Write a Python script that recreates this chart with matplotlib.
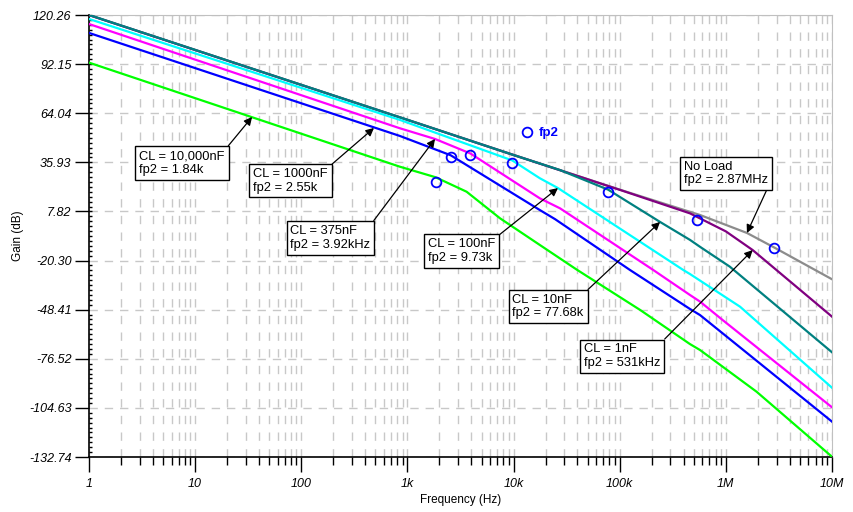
import matplotlib
matplotlib.use('Agg')
import matplotlib.pyplot as plt
from matplotlib.ticker import LogLocator, AutoMinorLocator, NullFormatter

plt.rcParams['font.family'] = ['Liberation Sans', 'DejaVu Sans']

# --- Data (frequency in Hz, gain in dB) ---
noload_f = [1, 1e3, 1e4, 1e5, 5.7e5, 1.58e6, 2.87e6, 1e7]
noload_db = [120.3, 60.3, 40.2, 20.3, 5.8, -4.5, -12.9, -31.0]

cl1n_f = [1, 1e3, 1e4, 1e5, 4.6e5, 1e6, 1.79e6, 1e7]
cl1n_db = [120.2, 60.2, 40.1, 20.2, 6.7, -3.6, -14.3, -52.4]

cl10n_f = [1, 1e3, 1e4, 2.74e4, 7.77e4, 2.4e5, 4.6e5, 5.7e5, 1.09e6, 1e7]
cl10n_db = [120.3, 60.3, 40.1, 31.5, 20.3, 1.8, -8.5, -12.4, -23.8, -72.8]

cl100n_f = [1, 851, 9.73e3, 1.77e4, 2.62e4, 3.97e5, 4.59e5, 1.36e6, 1e7]
cl100n_db = [118.0, 60.2, 37.0, 26.8, 21.2, -25.7, -28.0, -46.7, -93.1]

cl375n_f = [1, 851, 1820, 3920, 1.77e4, 2.74e4, 2.07e5, 4.59e5, 5.71e5, 9.31e5, 1e7]
cl375n_db = [115.1, 55.4, 49.3, 41.0, 15.3, 9.6, -25.7, -40.0, -43.8, -54.3, -104.3]

cl1000n_f = [1, 851, 2550, 1.77e4, 2.46e4, 1.25e5, 4.59e5, 5.71e5, 1e7]
cl1000n_db = [110.0, 51.0, 40.0, 8.6, 3.4, -25.7, -48.0, -51.5, -112.5]

cl10000n_f = [1, 851, 1840, 3610, 7450, 1.77e4, 3.94e4, 1.56e5, 4.59e5, 5.71e5, 1.95e6, 1e7]
cl10000n_db = [93.0, 33.4, 27.4, 19.1, 3.9, -11.4, -25.5, -48.6, -68.1, -71.5, -95.4, -132.6]

# fp2 markers
fp2_f = [1.84e3, 2.55e3, 3.92e3, 9.73e3, 77.68e3, 531e3, 2.87e6]
fp2_db = [24.7, 38.8, 39.9, 35.7, 19.1, 2.9, -12.9]

# annotation labels and the curve point each arrow points to
ann_labels = ['CL = 10,000nF\nfp2 = 1.84k', 'CL = 1000nF\nfp2 = 2.55k',
              'CL = 375nF\nfp2 = 3.92kHz', 'CL = 100nF\nfp2 = 9.73k',
              'CL = 10nF\nfp2 = 77.68k', 'CL = 1nF\nfp2 = 531kHz',
              'No Load\nfp2 = 2.87MHz']
ann_f = [34.4, 484, 1820, 2.62e4, 2.4e5, 1.79e6, 1.58e6]
ann_db = [61.9, 55.6, 49.3, 21.2, 1.8, -14.3, -4.5]

y_ticks = [-132.74, -104.63, -76.52, -48.41, -20.30, 7.82, 35.93, 64.04, 92.15, 120.26]
y_labels = ['-132.74', '-104.63', '-76.52', '-48.41', '-20.30', '7.82', '35.93', '64.04', '92.15', '120.26']
x_ticks = [1, 10, 100, 1e3, 1e4, 1e5, 1e6, 1e7]
x_labels = ['1', '10', '100', '1k', '10k', '100k', '1M', '10M']

# --- Plot ---
fig = plt.figure(figsize=(8.54, 5.12), dpi=100)
ax = fig.add_axes([89 / 854, 1 - 457 / 512, 743 / 854, 442 / 512])

curves = [
    (noload_f, noload_db, '#8c8c8c'),
    (cl1n_f, cl1n_db, '#800080'),
    (cl10n_f, cl10n_db, '#008080'),
    (cl100n_f, cl100n_db, '#00ffff'),
    (cl375n_f, cl375n_db, '#ff00ff'),
    (cl1000n_f, cl1000n_db, '#0000ff'),
    (cl10000n_f, cl10000n_db, '#00ff00'),
]
for f, db, c in curves:
    ax.plot(f, db, color=c, linewidth=1.6, zorder=3)

ax.plot(fp2_f, fp2_db, 'o', mfc='none', mec='#0000ff', mew=1.3, ms=7, zorder=4)

# legend entry for the markers
ax.plot([], [], 'o', mfc='none', mec='#0000ff', mew=1.3, ms=7, label='fp2')
leg = ax.legend(loc='center left', bbox_to_anchor=(0.566, 0.733), frameon=False,
                handlelength=0.8, handletextpad=0.5,
                prop={'weight': 'bold', 'size': 9.5})
for t in leg.get_texts():
    t.set_color('#0000ff')

# annotation boxes (box centres in axes fraction)
box_pos = [(0.1252, 0.665), (0.2712, 0.6251), (0.325, 0.4957), (0.5016, 0.4663),
           (0.6178, 0.3405), (0.7176, 0.2278), (0.8578, 0.6414)]
rel_pos = [(1, 1)] * 6 + [(1, 0)]
for lab, fx, fy, bp, rp in zip(ann_labels, ann_f, ann_db, box_pos, rel_pos):
    ax.annotate(lab, xy=(fx, fy), xycoords='data', xytext=bp, textcoords='axes fraction',
                ha='center', va='center', multialignment='left', fontsize=9.3, zorder=6,
                bbox=dict(boxstyle='square,pad=0.3', fc='white', ec='black', lw=1),
                arrowprops=dict(arrowstyle='-|>', color='black', lw=0.9, shrinkA=0, shrinkB=0,
                                relpos=rp, mutation_scale=12))

# axes
ax.set_xscale('log')
ax.set_xlim(1, 1e7)
ax.set_ylim(-132.74, 120.26)
ax.set_xticks(x_ticks)
ax.set_xticklabels(x_labels, fontstyle='italic', fontsize=9)
ax.xaxis.set_minor_locator(LogLocator(base=10, subs=range(2, 10), numticks=20))
ax.xaxis.set_minor_formatter(NullFormatter())
ax.set_yticks(y_ticks)
ax.set_yticklabels(y_labels, fontstyle='italic', fontsize=9)
ax.yaxis.set_minor_locator(AutoMinorLocator(10))

ax.tick_params(axis='x', which='major', direction='out', length=10.8, width=1, pad=4.5)
ax.tick_params(axis='x', which='minor', direction='out', length=5.8, width=1)
ax.tick_params(axis='y', which='major', direction='out', length=10, width=1, pad=2.5)
ax.tick_params(axis='y', which='minor', direction='in', length=2.2, width=1)

ax.grid(True, which='major', axis='y', color='#c8c8c8', linestyle=(0, (6, 5)), linewidth=1)
ax.grid(True, which='both', axis='x', color='#c8c8c8', linestyle=(0, (6, 6)), linewidth=1)

for s in ['top', 'right']:
    ax.spines[s].set_color('#c0c0c0')
for s in ['left', 'bottom']:
    ax.spines[s].set_color('black')
    ax.spines[s].set_linewidth(1.2)

ax.set_xlabel('Frequency (Hz)', fontsize=8.5, labelpad=3)
ax.set_ylabel('Gain (dB)', fontsize=8.5)
ax.yaxis.set_label_coords(-0.088, 0.5)

fig.savefig('out.png', dpi=100)
